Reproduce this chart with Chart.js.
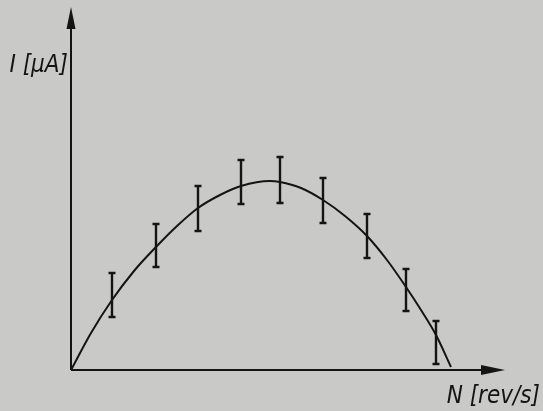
<!DOCTYPE html>
<html><head><meta charset="utf-8">
<script src="https://cdn.jsdelivr.net/npm/chart.js@4"></script>
<style>html,body{margin:0;padding:0;background:#c9cac8;}#wrap{width:543px;height:411px;}</style>
</head><body><div id="wrap"><canvas id="c" width="543" height="411"></canvas></div>
<script>
// Measured points (N, I) with error bar limits
const measN   = [4.1, 8.5, 12.7, 17.0, 20.9, 25.2, 29.6, 33.5, 36.5];
const measI   = [7.0, 12.3, 16.2, 18.4, 18.8, 17.0, 13.4, 8.3, 3.5];
const errLow  = [5.3, 10.3, 13.9, 16.6, 16.7, 14.7, 11.2, 5.9, 0.6];
const errHigh = [9.7, 14.6, 18.4, 21.0, 21.3, 19.2, 15.6, 10.1, 4.9];
// Fitted curve
const curveN = [0, 2.0, 4.1, 6.3, 8.5, 10.6, 12.7, 14.9, 17.0, 19.9, 20.9, 23.0, 25.2, 27.4, 29.6, 31.6, 33.5, 35.0, 36.5, 38.0];
const curveI = [0, 3.7, 7.0, 9.9, 12.3, 14.4, 16.2, 17.5, 18.4, 18.9, 18.8, 18.2, 17.0, 15.4, 13.4, 11.0, 8.3, 6.0, 3.5, 0.3];
const xMax = 43.4, yMax = 36.3;
const xLabel = 'N [rev/s]';
const yLabel = 'I [μA]';

const ink = '#141414';
const deco = {
  id: 'deco',
  afterDatasetsDraw(chart) {
    const {ctx, scales: {x, y}} = chart;
    ctx.save();
    ctx.strokeStyle = ink; ctx.fillStyle = ink;
    // error bars
    ctx.lineWidth = 2.4;
    for (let i = 0; i < measN.length; i++) {
      const px = x.getPixelForValue(measN[i]);
      const t = y.getPixelForValue(errHigh[i]);
      const b = y.getPixelForValue(errLow[i]);
      ctx.beginPath();
      ctx.moveTo(px, t); ctx.lineTo(px, b);
      ctx.moveTo(px - 3.5, t); ctx.lineTo(px + 3.5, t);
      ctx.moveTo(px - 3.5, b); ctx.lineTo(px + 3.5, b);
      ctx.stroke();
    }
    // axes
    const ox = x.getPixelForValue(0), oy = y.getPixelForValue(0);
    const ex = x.getPixelForValue(xMax), ty = y.getPixelForValue(yMax);
    ctx.lineWidth = 2;
    ctx.beginPath();
    ctx.moveTo(ox, oy); ctx.lineTo(ex - 10, oy);
    ctx.moveTo(ox, oy); ctx.lineTo(ox, ty + 10);
    ctx.stroke();
    ctx.beginPath();
    ctx.moveTo(ex, oy); ctx.lineTo(ex - 24, oy - 5); ctx.lineTo(ex - 24, oy + 5); ctx.closePath();
    ctx.fill();
    ctx.beginPath();
    ctx.moveTo(ox, ty); ctx.lineTo(ox - 4.5, ty + 22); ctx.lineTo(ox + 4.5, ty + 22); ctx.closePath();
    ctx.fill();
    // labels
    ctx.font = 'italic 24px "DejaVu Sans Condensed", "DejaVu Sans", sans-serif';
    ctx.textBaseline = 'middle';
    ctx.textAlign = 'right';
    ctx.fillText(yLabel, ox - 3, 66);
    ctx.fillText(xLabel, 540, 397);
    ctx.restore();
  }
};

new Chart(document.getElementById('c'), {
  type: 'line',
  data: {
    datasets: [{
      data: curveN.map((n, i) => ({x: n, y: curveI[i]})),
      borderColor: ink, borderWidth: 2, pointRadius: 0,
      cubicInterpolationMode: 'monotone', fill: false
    }]
  },
  options: {
    responsive: false, animation: false, events: [],
    layout: {padding: {left: 71, top: 7, right: 38, bottom: 41}},
    plugins: {legend: {display: false}, tooltip: {enabled: false}},
    scales: {
      x: {type: 'linear', min: 0, max: xMax, display: false},
      y: {type: 'linear', min: 0, max: yMax, display: false}
    }
  },
  plugins: [deco]
});
</script>
</body></html>
